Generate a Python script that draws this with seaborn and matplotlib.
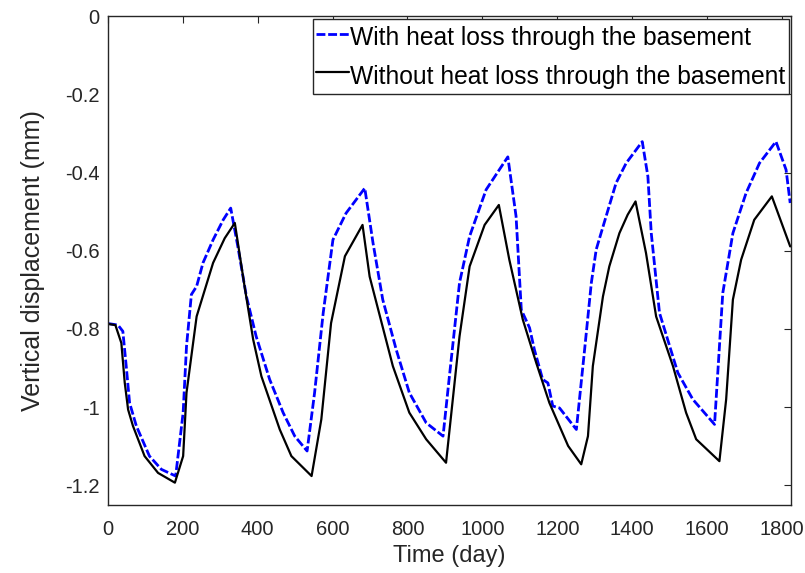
import matplotlib
matplotlib.use("Agg")
import matplotlib.pyplot as plt
import seaborn as sns
import numpy as np

# Vertical displacement over five years (days, mm)
days_with = [0, 27, 40, 49, 58, 76, 111, 143, 181, 201, 210, 223, 237, 254, 281, 308, 328,
             347, 370, 396, 432, 468, 499, 532, 552, 575, 601, 636, 686, 708, 734, 770, 805,
             850, 895, 912, 939, 966, 1010, 1068, 1090, 1104, 1126, 1139, 1161, 1175, 1188,
             1206, 1251, 1273, 1291, 1304, 1317, 1357, 1384, 1427, 1442, 1451, 1473, 1522,
             1562, 1620, 1642, 1669, 1704, 1740, 1784, 1811, 1822]
disp_with = [-0.786, -0.790, -0.806, -0.895, -0.989, -1.048, -1.125, -1.159, -1.176, -1.014,
             -0.844, -0.712, -0.691, -0.631, -0.572, -0.521, -0.491, -0.589, -0.717, -0.819,
             -0.929, -1.014, -1.074, -1.112, -0.963, -0.759, -0.572, -0.504, -0.440, -0.580,
             -0.725, -0.853, -0.963, -1.040, -1.074, -0.921, -0.682, -0.563, -0.444, -0.360,
             -0.512, -0.751, -0.797, -0.853, -0.929, -0.938, -0.997, -1.002, -1.057, -0.853,
             -0.682, -0.597, -0.555, -0.427, -0.376, -0.321, -0.410, -0.555, -0.759, -0.912,
             -0.980, -1.044, -0.708, -0.555, -0.453, -0.376, -0.321, -0.393, -0.478]

days_without = [0, 20, 36, 45, 54, 67, 98, 134, 179, 201, 210, 237, 281, 312, 339, 365, 388,
                410, 459, 490, 544, 570, 596, 633, 680, 699, 761, 805, 850, 903, 939, 966,
                1006, 1044, 1072, 1108, 1144, 1179, 1229, 1264, 1282, 1295, 1322, 1339, 1366,
                1388, 1409, 1437, 1464, 1509, 1544, 1571, 1633, 1651, 1669, 1691, 1726, 1773,
                1822]
disp_without = [-0.787, -0.790, -0.836, -0.937, -1.006, -1.048, -1.125, -1.168, -1.193, -1.125,
                -0.963, -0.768, -0.631, -0.568, -0.529, -0.691, -0.827, -0.921, -1.057, -1.125,
                -1.176, -1.031, -0.785, -0.614, -0.534, -0.666, -0.895, -1.014, -1.082, -1.142,
                -0.819, -0.640, -0.534, -0.483, -0.623, -0.776, -0.887, -0.989, -1.099, -1.146,
                -1.074, -0.895, -0.717, -0.640, -0.555, -0.508, -0.474, -0.606, -0.768, -0.895,
                -1.014, -1.082, -1.138, -0.980, -0.725, -0.623, -0.521, -0.461, -0.589]

labels = ["With heat loss through the basement", "Without heat loss through the basement"]
x_ticks = [0, 200, 400, 600, 800, 1000, 1200, 1400, 1600, 1800]
y_ticks = [0, -0.2, -0.4, -0.6, -0.8, -1, -1.2]

sns.set_theme(style="white")
plt.rcParams["font.family"] = ["Liberation Sans", "DejaVu Sans"]
plt.rcParams["axes.unicode_minus"] = False

fig = plt.figure(figsize=(8.05, 5.73), dpi=100)
ax = fig.add_axes([0.134, 0.1187, 0.849, 0.8533])

sns.lineplot(x=days_with, y=disp_with, ax=ax, sort=False, estimator=None,
             color="#0000ff", linewidth=2.0, label=labels[0])
ax.lines[-1].set_linestyle((0, (3.2, 1.0)))
sns.lineplot(x=days_without, y=disp_without, ax=ax, sort=False, estimator=None,
             color="black", linewidth=1.6, label=labels[1])

ax.set_xlim(0, 1825)
ax.set_ylim(-1.25, 0)
ax.set_xticks(x_ticks)
ax.set_yticks(y_ticks)
ax.set_xticklabels([str(t) for t in x_ticks])
ax.set_yticklabels(["%g" % t for t in y_ticks])
ax.set_xlabel("Time (day)", fontsize=17, color="#262626", labelpad=4)
ax.set_ylabel("Vertical displacement (mm)", fontsize=18, color="#262626", labelpad=14)

ax.tick_params(axis="both", which="major", direction="in", length=5, width=0.8,
               labelsize=14.5, colors="#262626", top=True, right=True)
ax.tick_params(axis="x", pad=11)
ax.tick_params(axis="y", pad=6)
for s in ax.spines.values():
    s.set_visible(True)
    s.set_color("#262626")
    s.set_linewidth(1.0)

leg = ax.legend(loc="upper right", bbox_to_anchor=(1.0, 1.0), fontsize=17.7,
                frameon=True, fancybox=False, framealpha=1, edgecolor="#262626",
                borderpad=0.15, borderaxespad=0.1, handlelength=1.35, handletextpad=0.02,
                handleheight=1.5, labelspacing=0.35)
leg.get_frame().set_linewidth(1.0)
for t in leg.get_texts():
    t.set_color("black")

fig.savefig("out.png", dpi=100)
